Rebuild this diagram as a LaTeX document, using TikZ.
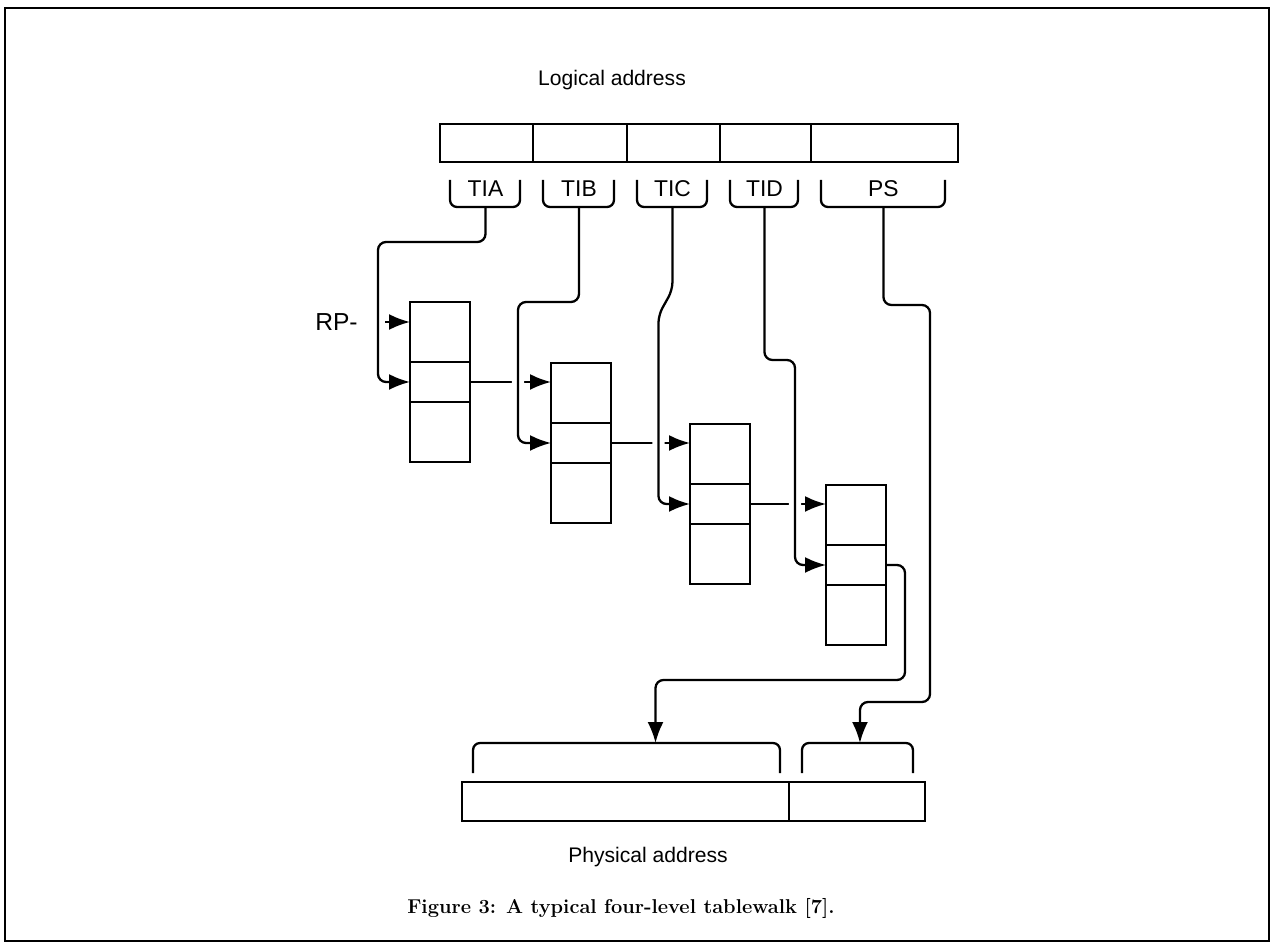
\documentclass[tikz,border=0pt]{standalone}
\usepackage{fontspec}
\newfontfamily\lblfont{Liberation Sans}
\usetikzlibrary{positioning,calc,arrows.meta}
\pgfdeclarelayer{back}
\pgfsetlayers{back,main}

\begin{document}
\begin{tikzpicture}[x=0.02cm,y=-0.02cm,
field/.style={
  draw,
  rectangle,
  inner sep=0pt,
  outer sep=0pt,
  line width=1.1pt},
slot/.style={field,minimum width=1.2cm},
lbl/.style={font=\lblfont\fontsize{13}{15}\selectfont,inner sep=0pt},
wire/.style={line width=1.3pt,rounded corners=1.6mm},
ptr/.style={wire,-{Latex[length=4.2mm,width=3.2mm]}},
halo/.style={preaction={draw=white,line width=7pt,-}}
]
\useasboundingbox (0,0) rectangle (1273,945);
\draw[line width=1pt] (5,8) rectangle (1269,941);

% logical address register
\node[lbl,font=\lblfont\fontsize{12}{14}\selectfont] (logical) at (612,80) {Logical address};
\node[field,minimum width=1.86cm,minimum height=0.76cm] (la) at (486.5,143) {};
\node[field,minimum width=1.88cm,minimum height=0.76cm,right=0pt of la] (lb) {};
\node[field,minimum width=1.86cm,minimum height=0.76cm,right=0pt of lb] (lc) {};
\node[field,minimum width=1.82cm,minimum height=0.76cm,right=0pt of lc] (ld) {};
\node[field,minimum width=2.94cm,minimum height=0.76cm,right=0pt of ld] (ps) {};
\foreach \f/\t in {la/TIA,lb/TIB,lc/TIC,ld/TID,ps/PS}{
  \node[lbl] (\f-t) at ($(\f.south)+(-1,27)$) {\t};
  \draw[wire,rounded corners=1.4mm] ($(\f.south west)+(10,18)$)
    |- ($(\f.south)+(-1,45)$) coordinate (\f-s) -| ($(\f.south east)+(-13,18)$);
}

% the four tables
\foreach \k/\x/\y in {1/440/332,2/581/393,3/720/454,4/856/515}{
  \node[slot,minimum height=1.2cm] (t\k-1) at (\x,\y) {};
  \node[slot,minimum height=0.8cm,below=0pt of t\k-1] (t\k-2) {};
  \node[slot,minimum height=1.2cm,below=0pt of t\k-2] (t\k-3) {};
}

\node[lbl,font=\lblfont\fontsize{14}{16}\selectfont,anchor=east] (rp) at (358,322) {RP-};
\coordinate (rp-a) at ($(rp.east)+(27,0)$);
\draw[ptr] (rp-a) -- (rp-a -| t1-1.west);

% physical address register
\node[field,minimum width=6.54cm,minimum height=0.78cm] (pa) at (625.5,801.5) {};
\node[field,minimum width=2.72cm,minimum height=0.78cm,right=0pt of pa] (pb) {};
\draw[wire,rounded corners=1.4mm] ($(pa.north west)+(11,-9)$)
  |- ($(pa.north)+(30,-39)$) coordinate (pa-t) -| ($(pa.north east)+(-9,-9)$);
\draw[wire,rounded corners=1.4mm] ($(pb.north west)+(13,-9)$)
  |- ($(pb.north)+(3,-39)$) coordinate (pb-t) -| ($(pb.north east)+(-12,-9)$);
\node[lbl,font=\lblfont\fontsize{12}{14}\selectfont] (physical) at (648,857) {Physical address};

\node[font=\bfseries\fontsize{11.4}{13}\selectfont] (cap) at (621,908)
  {Figure 3: A typical four-level tablewalk [7].};

\begin{pgfonlayer}{back}
\foreach \k/\n in {1/2,2/3,3/4}
  \draw[ptr] (t\k-2.east) -- (t\k-2.east -| t\n-1.west);
\draw[ptr,halo] (la-s) |- (378,242) |- (t1-2.west);
\draw[ptr,halo] (lb-s) |- (518,302) |- (t2-2.west);
\draw[ptr,halo] (lc-s) -- ++(0,83) -- ++(-14,25) |- (t3-2.west);
\draw[ptr,halo] (ld-s) |- (795,360) |- (t4-2.west);
\draw[ptr] (t4-2.east) -| (905,680) -| (pa-t);
\draw[ptr] (ps-s) |- (930,305) |- (860,702) -- (pb-t);
\end{pgfonlayer}
\end{tikzpicture}
\end{document}
